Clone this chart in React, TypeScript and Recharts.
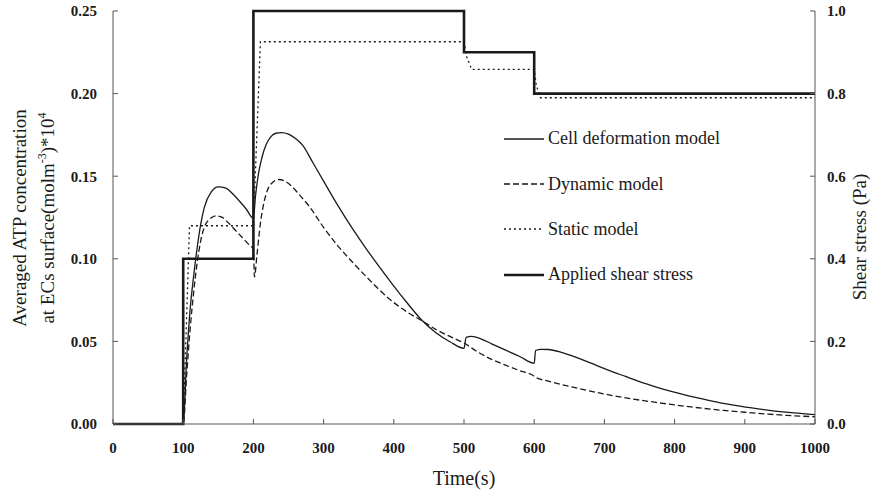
import { LineChart, Line, XAxis, YAxis, Legend } from "recharts";

const FONT = '"Liberation Serif", "Times New Roman", serif';
const INK = "#1a1a1a";
const AXIS = "#555";

// Time ticks and axis ticks
const timeTicks = [0, 100, 200, 300, 400, 500, 600, 700, 800, 900, 1000];
const atpTicks = [0, 0.05, 0.1, 0.15, 0.2, 0.25];
const stressTicks = [0, 0.2, 0.4, 0.6, 0.8, 1.0];

// Cell deformation model (solid)
const cellTime = [
  0, 100, 105, 110, 115, 120, 125, 130, 140, 150, 160, 170, 180, 190, 200,
  203, 207, 212, 218, 225, 232, 240, 250, 260, 270, 285, 300, 320, 340, 360,
  380, 400, 420, 440, 460, 480, 500, 503, 510, 520, 540, 560, 580, 600, 602,
  610, 620, 640, 660, 680, 700, 730, 760, 790, 820, 850, 880, 910, 940, 970,
  1000,
];
const cellValue = [
  0, 0, 0.04, 0.07, 0.09, 0.107, 0.121, 0.131, 0.1405, 0.1435, 0.143, 0.1395,
  0.135, 0.13, 0.1245, 0.138, 0.151, 0.161, 0.169, 0.174, 0.176, 0.1764,
  0.1755, 0.1728, 0.1688, 0.158, 0.147, 0.1325, 0.119, 0.1065, 0.0948, 0.0835,
  0.0728, 0.0628, 0.0553, 0.0498, 0.0458, 0.0525, 0.053, 0.0522, 0.0484,
  0.0446, 0.0407, 0.0368, 0.0445, 0.0452, 0.0451, 0.0432, 0.0403, 0.037,
  0.0335, 0.0288, 0.0243, 0.0203, 0.017, 0.0142, 0.0117, 0.0097, 0.008, 0.0067,
  0.0057,
];

// Dynamic model (dashed)
const dynTime = [
  0, 100, 105, 110, 115, 120, 125, 130, 140, 147, 155, 165, 175, 185, 195, 200,
  201.5, 205, 210, 215, 220, 228, 236, 245, 255, 265, 280, 300, 320, 340, 360,
  380, 400, 420, 440, 460, 480, 500, 520, 540, 560, 580, 598, 602, 620, 640,
  660, 690, 720, 750, 780, 810, 840, 870, 900, 930, 960, 1000,
];
const dynValue = [
  0, 0, 0.03, 0.058, 0.08, 0.098, 0.111, 0.119, 0.1248, 0.126, 0.1252, 0.1215,
  0.117, 0.1125, 0.108, 0.106, 0.089, 0.102, 0.1215, 0.134, 0.1415, 0.1465,
  0.148, 0.147, 0.1437, 0.139, 0.1315, 0.119, 0.108, 0.0985, 0.0895, 0.081,
  0.0735, 0.0675, 0.0625, 0.0572, 0.053, 0.049, 0.0435, 0.039, 0.0355, 0.0322,
  0.0295, 0.0283, 0.026, 0.0238, 0.0218, 0.019, 0.0166, 0.0145, 0.0127, 0.011,
  0.0095, 0.0082, 0.0071, 0.0061, 0.0052, 0.0044,
];

// Static model (dotted)
const staticTime = [0, 100, 109, 200, 210, 500, 504, 511, 600, 603, 609, 1000];
const staticValue = [
  0, 0, 0.12, 0.12, 0.2314, 0.2314, 0.222, 0.2147, 0.2147, 0.205, 0.1975,
  0.1975,
];

// Applied shear stress (Pa, right axis)
const stressTime = [0, 100, 200, 500, 600, 1000];
const stressValue = [0, 0.4, 1.0, 0.9, 0.8, 0.8];

const toRows = (ts: number[], vs: number[]) =>
  ts.map((t, i) => ({ t, v: vs[i] }));

const cellData = toRows(cellTime, cellValue);
const dynData = toRows(dynTime, dynValue);
const staticData = toRows(staticTime, staticValue);
const stressData = toRows(stressTime, stressValue);

const legendItems = [
  { name: "Cell deformation model", dash: undefined, width: 1.3 },
  { name: "Dynamic model", dash: "6 3", width: 1.3 },
  { name: "Static model", dash: "2 3", width: 1.3 },
  { name: "Applied shear stress", dash: undefined, width: 2.6 },
];

const tickStyle = {
  fontFamily: FONT,
  fontSize: 15,
  fontWeight: "bold",
  fill: INK,
};

function LegendBox() {
  return (
    <div style={{ fontFamily: FONT, fontSize: 18, color: INK }}>
      {legendItems.map((item) => (
        <div
          key={item.name}
          style={{ display: "flex", alignItems: "center", height: 45.4 }}
        >
          <svg width={40} height={10} style={{ marginRight: 4 }}>
            <line
              x1={0}
              y1={5}
              x2={40}
              y2={5}
              stroke={INK}
              strokeWidth={item.width}
              strokeDasharray={item.dash}
            />
          </svg>
          <span>{item.name}</span>
        </div>
      ))}
    </div>
  );
}

function LeftTitle() {
  return (
    <g fontFamily={FONT} fontSize={19} fill={INK}>
      <text x={26} y={218} textAnchor="middle" transform="rotate(-90 26 218)">
        Averaged ATP concentration
      </text>
      <text x={54} y={218} textAnchor="middle" transform="rotate(-90 54 218)">
        at ECs surface(molm
        <tspan fontSize={12} dy={-8}>
          -3
        </tspan>
        <tspan dy={8}>)*10</tspan>
        <tspan fontSize={12} dy={-8}>
          4
        </tspan>
      </text>
    </g>
  );
}

function RightTitle() {
  return (
    <text
      x={866}
      y={237}
      textAnchor="middle"
      fontFamily={FONT}
      fontSize={19}
      fill={INK}
      transform="rotate(-90 866 237)"
    >
      Shear stress (Pa)
    </text>
  );
}

function BottomTitle() {
  return (
    <text
      x={464}
      y={485}
      textAnchor="middle"
      fontFamily={FONT}
      fontSize={20}
      fill={INK}
    >
      Time(s)
    </text>
  );
}

export default function App() {
  return (
    <div style={{ position: "absolute", left: 0, top: 0, background: "#fff" }}>
      <LineChart
        width={881}
        height={490}
        margin={{ top: 11, right: 0, bottom: 0, left: 0 }}
      >
        <XAxis
          dataKey="t"
          type="number"
          domain={[0, 1000]}
          ticks={timeTicks}
          height={66}
          tickSize={-5}
          tickMargin={23}
          axisLine={{ stroke: AXIS }}
          tickLine={{ stroke: AXIS }}
          tick={tickStyle}
          allowDuplicatedCategory={false}
          label={<BottomTitle />}
        />
        <YAxis
          yAxisId="left"
          domain={[0, 0.25]}
          ticks={atpTicks}
          width={113}
          tickSize={-5}
          tickMargin={21}
          tickFormatter={(v: number) => v.toFixed(2)}
          axisLine={{ stroke: AXIS }}
          tickLine={{ stroke: AXIS }}
          tick={tickStyle}
          label={<LeftTitle />}
        />
        <YAxis
          yAxisId="right"
          orientation="right"
          domain={[0, 1]}
          ticks={stressTicks}
          width={66}
          tickSize={-5}
          tickMargin={17}
          tickFormatter={(v: number) => v.toFixed(1)}
          axisLine={{ stroke: AXIS }}
          tickLine={{ stroke: AXIS }}
          tick={tickStyle}
          label={<RightTitle />}
        />
        <Legend
          layout="vertical"
          align="center"
          verticalAlign="middle"
          wrapperStyle={{ left: 504, top: 116, width: 260 }}
          content={() => <LegendBox />}
        />
        <Line
          yAxisId="right"
          data={stressData}
          dataKey="v"
          type="stepAfter"
          stroke={INK}
          strokeWidth={2.6}
          dot={false}
          activeDot={false}
          isAnimationActive={false}
        />
        <Line
          yAxisId="left"
          data={staticData}
          dataKey="v"
          type="linear"
          stroke={INK}
          strokeWidth={1.3}
          strokeDasharray="2 3"
          dot={false}
          activeDot={false}
          isAnimationActive={false}
        />
        <Line
          yAxisId="left"
          data={dynData}
          dataKey="v"
          type="monotone"
          stroke={INK}
          strokeWidth={1.3}
          strokeDasharray="6 3"
          dot={false}
          activeDot={false}
          isAnimationActive={false}
        />
        <Line
          yAxisId="left"
          data={cellData}
          dataKey="v"
          type="monotone"
          stroke={INK}
          strokeWidth={1.3}
          dot={false}
          activeDot={false}
          isAnimationActive={false}
        />
      </LineChart>
    </div>
  );
}
